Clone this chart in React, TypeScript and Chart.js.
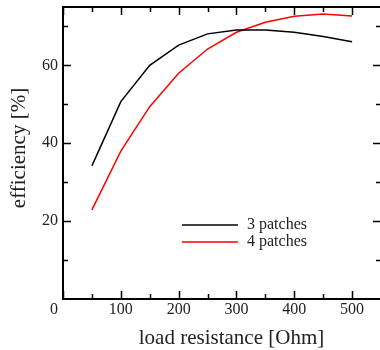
import React, { useEffect, useRef } from "react";
import { Chart, registerables } from "chart.js";

Chart.register(...registerables);

const loads = [50, 100, 150, 200, 250, 300, 350, 400, 450, 500];
const threePatches = [34.2, 50.7, 60.0, 65.2, 68.1, 69.1, 69.1, 68.5, 67.4, 66.1];
const fourPatches = [22.9, 38.0, 49.4, 58.0, 64.2, 68.5, 71.1, 72.6, 73.2, 72.7];
const seriesNames = ["3 patches", "4 patches"];
const xMajorTicks = [0, 100, 200, 300, 400, 500];
const xMinorTicks = [50, 150, 250, 350, 450];
const yMajorTicks = [20, 40, 60];
const yMinorTicks = [10, 30, 50, 70];
const xTickLabels = ["0", "100", "200", "300", "400", "500"];
const yTickLabels = ["20", "40", "60"];
const xTitle = "load resistance [Ohm]";
const yTitle = "efficiency [%]";

const FONT = "'Liberation Serif', 'Times New Roman', serif";

const framePlugin = {
  id: "frame",
  afterDraw(chart: any) {
    const { ctx, chartArea } = chart;
    const xs = chart.scales.x;
    const ys = chart.scales.y;
    const { left, right, top, bottom } = chartArea;
    ctx.save();
    ctx.strokeStyle = "#000";
    ctx.lineWidth = 2;
    ctx.strokeRect(left, top, right - left, bottom - top);
    ctx.lineWidth = 1.5;
    const major = 8;
    const minor = 5;
    ctx.beginPath();
    const xt = (v: number, len: number) => {
      const px = Math.round(xs.getPixelForValue(v)) + 0.5;
      ctx.moveTo(px, bottom);
      ctx.lineTo(px, bottom - len);
      ctx.moveTo(px, top);
      ctx.lineTo(px, top + len);
    };
    const yt = (v: number, len: number) => {
      const py = Math.round(ys.getPixelForValue(v)) + 0.5;
      ctx.moveTo(left, py);
      ctx.lineTo(left + len, py);
      ctx.moveTo(right, py);
      ctx.lineTo(right - len, py);
    };
    xMajorTicks.forEach((v) => xt(v, major));
    xMinorTicks.forEach((v) => xt(v, minor));
    yMajorTicks.forEach((v) => yt(v, major));
    yMinorTicks.forEach((v) => yt(v, minor));
    ctx.stroke();

    ctx.fillStyle = "#222";
    ctx.font = `16px ${FONT}`;
    ctx.textBaseline = "alphabetic";
    ctx.textAlign = "center";
    xMajorTicks.forEach((v, i) => {
      let px = xs.getPixelForValue(v);
      if (v === 0) px -= 9;
      ctx.fillText(xTickLabels[i], px, bottom + 14.5);
    });
    ctx.textAlign = "right";
    ctx.textBaseline = "middle";
    yMajorTicks.forEach((v, i) => {
      ctx.fillText(yTickLabels[i], left - 5, ys.getPixelForValue(v));
    });

    ctx.font = `21px ${FONT}`;
    ctx.textAlign = "center";
    ctx.textBaseline = "alphabetic";
    ctx.fillText(xTitle, 231.5, 344);
    ctx.save();
    ctx.translate(25, 148);
    ctx.rotate(-Math.PI / 2);
    ctx.fillText(yTitle, 0, 0);
    ctx.restore();

    // legend
    ctx.font = `16px ${FONT}`;
    ctx.textAlign = "left";
    ctx.textBaseline = "middle";
    const colors = ["#000000", "#ff0000"];
    const ly = [225, 242];
    seriesNames.forEach((name, i) => {
      ctx.strokeStyle = colors[i];
      ctx.lineWidth = 1.5;
      ctx.beginPath();
      ctx.moveTo(182, ly[i]);
      ctx.lineTo(238, ly[i]);
      ctx.stroke();
      ctx.fillStyle = "#222";
      ctx.fillText(name, 247, ly[i]);
    });
    ctx.restore();
  },
};

export default function App() {
  const ref = useRef<HTMLCanvasElement>(null);
  useEffect(() => {
    document.body.style.margin = "0";
    const chart = new Chart(ref.current as HTMLCanvasElement, {
      type: "line",
      data: {
        datasets: [
          {
            label: seriesNames[0],
            data: loads.map((x, i) => ({ x, y: threePatches[i] })),
            borderColor: "#000000",
            borderWidth: 1.5,
            pointRadius: 0,
            tension: 0,
          },
          {
            label: seriesNames[1],
            data: loads.map((x, i) => ({ x, y: fourPatches[i] })),
            borderColor: "#ff0000",
            borderWidth: 1.5,
            pointRadius: 0,
            tension: 0,
          },
        ],
      },
      options: {
        responsive: false,
        animation: false,
        devicePixelRatio: 1,
        layout: { padding: { left: 63, top: 7, right: 9, bottom: 51 } },
        plugins: { legend: { display: false }, tooltip: { enabled: false } },
        scales: {
          x: { type: "linear", min: 0, max: 550, display: false },
          y: { type: "linear", min: 0, max: 75, display: false },
        },
      },
      plugins: [framePlugin],
    });
    return () => chart.destroy();
  }, []);
  return (
    <div
      style={{
        position: "fixed",
        left: 0,
        top: 0,
        width: 380,
        height: 350,
        overflow: "hidden",
        background: "#fff",
      }}
    >
      <canvas ref={ref} width={390} height={350} style={{ display: "block" }} />
    </div>
  );
}
